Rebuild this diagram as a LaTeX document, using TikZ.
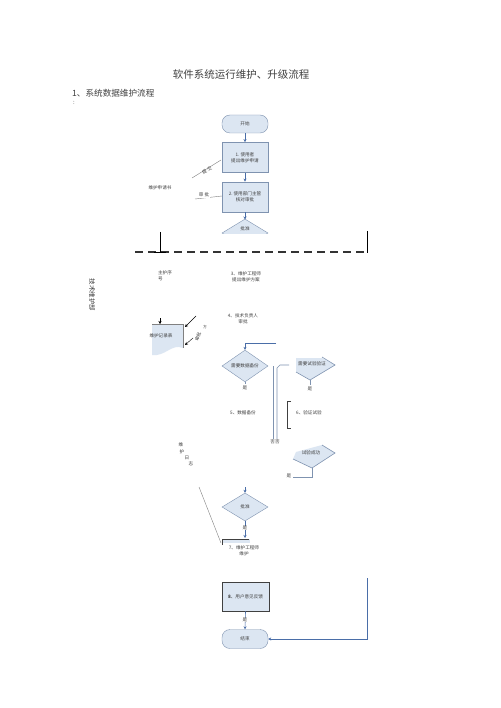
\documentclass[tikz,border=0pt]{standalone}
\usepackage{fontspec}
\newfontfamily\cjk{Noto Sans CJK SC}
\usetikzlibrary{shapes.geometric,arrows.meta}
\definecolor{lb}{HTML}{DCE6F2}
\definecolor{bd}{HTML}{7F93B0}
\definecolor{ab}{HTML}{4A6EA8}
\definecolor{tx}{HTML}{404040}
\begin{document}
\begin{tikzpicture}[x=1pt,y=-1pt,
  sm/.style={font=\cjk\fontsize{4.6}{5.6}\selectfont, text=tx, inner sep=0.5pt, align=center},
  term/.style={sm, rectangle, rounded corners=8pt, draw=bd, fill=lb, minimum width=46pt, minimum height=18pt},
  proc/.style={sm, rectangle, draw=bd, line width=0.8pt, fill=lb, minimum width=46pt, minimum height=30pt},
  dec/.style={sm, diamond, draw=bd, fill=lb, inner sep=0pt, minimum width=46pt, minimum height=28pt},
  arr/.style={draw=ab, line width=0.6pt, -{Stealth[length=3pt,width=3pt]}},
  ln/.style={draw=bd, line width=0.6pt},
  gl/.style={draw=gray, line width=0.4pt},
  bk/.style={draw=black, line width=0.4pt, -{Stealth[length=3pt,width=3pt]}}]
\useasboundingbox (0,0) rectangle (500,708);
\fill[white] (0,0) rectangle (500,708);

% titles
\node[font=\cjk\fontsize{10.5}{12}\selectfont, text=tx] (title) at (241,75) {软件系统运行维护、升级流程};
\node[font=\cjk\fontsize{8.6}{10}\selectfont, text=tx, anchor=west, inner sep=0pt] (h1) at (72,93) {1、系统数据维护流程};
\node[font=\cjk\fontsize{6}{7}\selectfont, text=tx, inner sep=0pt] (colon) at (74,103) {:};

% top flow
\node[term] (start) at (245,124) {开始};
\node[proc] (b1) at (245,157.5) {1.\ 使用者\\提出维护申请};
\node[proc] (b2) at (245,197) {2.\ 使用部门主管\\核对审批};
\begin{scope}
\clip (215,212) rectangle (280,233.5);
\node[dec] (d1) at (245,233) {};
\end{scope}
\node[sm] (d1t) at (245,228.5) {批准};
\draw[arr] (start) -- (b1);
\draw[arr] (b1) -- (b2);
\draw[arr] (b2.south) -- (245,219.5);

% left labels top
\node[sm] (req) at (160,188) {维护申请书};
\coordinate (p1a) at (192,178); \coordinate (p1b) at (221,160);
\draw[gl] (p1a) -- (p1b);
\node[sm, rotate=30] (sub) at (207,170) {提\ 交};
\coordinate (p2a) at (195,199); \coordinate (p2b) at (222,196);
\draw[gl] (p2a) -- (p2b);
\node[sm, fill=white] (appr) at (204,195) {审\ 批};

% dashed separator
\coordinate (dl) at (135,252); \coordinate (dr) at (367,252);
\draw[draw=black!80, line width=1.6pt, dash pattern=on 8pt off 5pt] (dl) -- (dr);
\coordinate (v1a) at (160,232); \coordinate (v1b) at (160,252);
\draw[black, line width=0.7pt] (v1a) -- (v1b);
\draw[black, line width=0.7pt] (154,252) -- (166,252);
\coordinate (v2a) at (367,231); \coordinate (v2b) at (367,253);
\draw[black, line width=0.6pt] (v2a) -- (v2b);

% department label
\node[font=\cjk\fontsize{6.5}{7}\selectfont, text=tx, rotate=-90] (dept) at (92,295) {技术维护部};

\node[sm, align=left] (seq) at (165,276) {主护序\\号};
\node[sm] (s3) at (246,277) {3、维护工程师\\提出维护方案};
\node[sm] (s4) at (243,319) {4、技术负责人\\审批};

% document shape
\fill[lb] (152,324) -- (183,324) -- (183,348) .. controls (172,343) and (165,357) .. (152,355) -- cycle;
\draw[gl] (152,324) -- (183,324) -- (183,348);
\node[sm] (rec) at (161,336) {维护记录表};
\coordinate (ra) at (160,318); \coordinate (rb) at (160,324);
\draw[bk] (ra) -- (rb);
\coordinate (rc) at (196,316); \coordinate (rd) at (185,327);
\draw[bk] (rc) -- (rd);
\coordinate (re) at (193,338); \coordinate (rf) at (185,345);
\draw[bk] (re) -- (rf);
\node[sm, rotate=70] (apf) at (198,337) {审批};
\node[sm, font=\cjk\fontsize{3.8}{4.5}\selectfont] (apf2) at (205,327) {方};

% backup decision
\node[dec] (d2) at (245,366) {需要数据备份};
\coordinate (q1) at (276,343);
\draw[arr] (q1) -- (245,343) -- (d2.north);
\draw[ln] (d2.south) -- (245,384);
\node[sm] (yes1) at (245,388) {是};
\node[sm] (s5) at (243,413) {5、数据备份};

% double lines
\coordinate (w1a) at (273,366); \coordinate (w1b) at (273,439);
\draw[ln] (w1a) -- (w1b);
\coordinate (w2a) at (289,365); \coordinate (w2b) at (277,439);
\draw[ln] (w2a) -- (280,365) -- (277,368) -- (w2b);
\node[sm] (no2) at (275,442) {否否};

% test decision (partial)
\fill[lb] (296,358) -- (322,358) -- (335,365) -- (310,380) -- (296,372) -- cycle;
\draw[ln] (322,357) -- (335,365) -- (310,380) -- (296,372);
\node[sm] (d3) at (312,364) {需要试验验证};
\draw[ln] (310,380) -- (310,385);
\node[sm] (yes3) at (310,389) {是};
\draw[draw=tx, line width=0.7pt] (291,401) -- (287,401) -- (287,428) -- (291,428);
\node[sm] (s6) at (309,413) {6、验证试验};

% test success (partial)
\fill[lb] (296,452) -- (322,445) -- (335,453) -- (312,468) -- (293,459) -- cycle;
\draw[ln] (322,445) -- (335,453) -- (312,468) -- (293,459);
\node[sm] (d5) at (311,453) {试验成功};
\draw[ln] (312,468) -- (312,477) -- (293,477);
\node[sm] (yes5) at (289,476) {是};

% log text
\node[sm] (l1) at (181,445) {维};
\node[sm] (l2) at (182,452) {护};
\node[sm] (l3) at (187,458) {日};
\node[sm] (l4) at (191,464) {志};
\coordinate (lg1) at (199,487); \coordinate (lg2) at (221,543);
\draw[gl] (lg1) -- (lg2);

% final approval
\node[dec] (d4) at (245,507) {批准};
\coordinate (t4) at (245,487);
\draw[arr] (t4) -- (d4.north);
\coordinate (b7) at (245,538);
\draw[arr] (d4.south) -- (b7);
\node[sm, fill=white, inner sep=0pt] (yes4) at (245,528) {是};

% box 7 (partial)
\fill[lb] (222,539) rectangle (250,543);
\draw[draw=tx, line width=0.7pt] (222,545) -- (222,539) -- (249,539);
\node[sm] (s7) at (244,551) {7、维护工程师\\维护};

% box 8 and end
\node[proc, draw=tx, minimum height=29pt, minimum width=47pt] (b8) at (245.5,596.5) {\textbf{8}、用户意见反馈};
\node[term, minimum height=19pt] (end) at (245,639) {结束};
\draw[arr] (b8.south) -- (end.north);
\node[sm, fill=white, inner sep=0pt] (yes8) at (245,620) {是};
\coordinate (rr) at (367,578);
\draw[arr] (rr) -- (367,639) -- (end.east);
\end{tikzpicture}
\end{document}
